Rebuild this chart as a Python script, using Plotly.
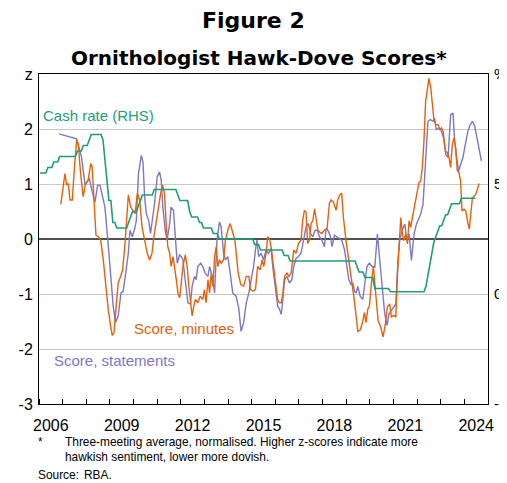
import plotly.graph_objects as go

# ---------------- data ----------------
# Cash rate (RHS, %), monthly, Jan 2006 - Jun 2024
cash_start_year = 2006
cash_rate = [
    5.5, 5.5, 5.5, 5.5, 5.75, 5.75, 5.75, 6.0, 6.0, 6.0, 6.25, 6.25,          # 2006
    6.25, 6.25, 6.25, 6.25, 6.25, 6.25, 6.25, 6.5, 6.5, 6.5, 6.75, 6.75,      # 2007
    6.75, 7.0, 7.25, 7.25, 7.25, 7.25, 7.25, 7.25, 7.0, 6.0, 5.25, 4.25,      # 2008
    4.25, 3.25, 3.25, 3.0, 3.0, 3.0, 3.0, 3.0, 3.0, 3.25, 3.5, 3.75,          # 2009
    3.75, 3.75, 4.0, 4.25, 4.5, 4.5, 4.5, 4.5, 4.5, 4.5, 4.75, 4.75,          # 2010
    4.75, 4.75, 4.75, 4.75, 4.75, 4.75, 4.75, 4.75, 4.75, 4.75, 4.5, 4.25,    # 2011
    4.25, 4.25, 4.25, 4.25, 3.75, 3.5, 3.5, 3.5, 3.5, 3.25, 3.25, 3.0,        # 2012
    3.0, 3.0, 3.0, 3.0, 2.75, 2.75, 2.75, 2.5, 2.5, 2.5, 2.5, 2.5,            # 2013
    2.5, 2.5, 2.5, 2.5, 2.5, 2.5, 2.5, 2.5, 2.5, 2.5, 2.5, 2.5,               # 2014
    2.5, 2.25, 2.25, 2.25, 2.0, 2.0, 2.0, 2.0, 2.0, 2.0, 2.0, 2.0,            # 2015
    2.0, 2.0, 2.0, 2.0, 1.75, 1.75, 1.75, 1.5, 1.5, 1.5, 1.5, 1.5,            # 2016
    1.5, 1.5, 1.5, 1.5, 1.5, 1.5, 1.5, 1.5, 1.5, 1.5, 1.5, 1.5,               # 2017
    1.5, 1.5, 1.5, 1.5, 1.5, 1.5, 1.5, 1.5, 1.5, 1.5, 1.5, 1.5,               # 2018
    1.5, 1.5, 1.5, 1.5, 1.5, 1.25, 1.0, 1.0, 1.0, 0.75, 0.75, 0.75,           # 2019
    0.75, 0.75, 0.25, 0.25, 0.25, 0.25, 0.25, 0.25, 0.25, 0.25, 0.1, 0.1,     # 2020
    0.1, 0.1, 0.1, 0.1, 0.1, 0.1, 0.1, 0.1, 0.1, 0.1, 0.1, 0.1,               # 2021
    0.1, 0.1, 0.1, 0.1, 0.35, 0.85, 1.35, 1.85, 2.35, 2.6, 2.85, 3.1,         # 2022
    3.1, 3.35, 3.6, 3.6, 3.85, 4.1, 4.1, 4.1, 4.1, 4.1, 4.35, 4.35,           # 2023
    4.35, 4.35, 4.35, 4.35, 4.35, 4.35,                                       # 2024
]

# Score, statements (z-score) - decimal year / value
statements_t = [
    2006.85, 2007.59, 2007.80, 2007.95, 2008.04, 2008.13, 2008.25, 2008.37, 2008.48, 2008.58,
    2008.72, 2008.79, 2008.90, 2009.00, 2009.14, 2009.24, 2009.35, 2009.47, 2009.56, 2009.67,
    2009.78, 2009.85, 2009.95, 2010.05, 2010.12, 2010.21, 2010.33, 2010.40, 2010.47, 2010.54,
    2010.64, 2010.72, 2010.78, 2010.89, 2011.00, 2011.10, 2011.17, 2011.24, 2011.34, 2011.42,
    2011.53, 2011.59, 2011.69, 2011.76, 2011.85, 2011.95, 2012.02, 2012.09, 2012.16, 2012.23,
    2012.30, 2012.41, 2012.48, 2012.58, 2012.65, 2012.72, 2012.84, 2012.93, 2013.03, 2013.15,
    2013.22, 2013.33, 2013.43, 2013.53, 2013.64, 2013.71, 2013.81, 2013.89, 2013.99, 2014.09,
    2014.20, 2014.34, 2014.46, 2014.55, 2014.66, 2014.77, 2014.88, 2014.98, 2015.08, 2015.16,
    2015.22, 2015.30, 2015.40, 2015.50, 2015.61, 2015.71, 2015.82, 2015.89, 2016.01, 2016.10,
    2016.18, 2016.25, 2016.32, 2016.39, 2016.49, 2016.60, 2016.70, 2016.78, 2016.88, 2016.98,
    2017.09, 2017.20, 2017.30, 2017.40, 2017.49, 2017.59, 2017.68, 2017.77, 2017.87, 2017.97,
    2018.08, 2018.15, 2018.22, 2018.32, 2018.40, 2018.50, 2018.60, 2018.71, 2018.81, 2018.93,
    2019.02, 2019.11, 2019.21, 2019.28, 2019.35, 2019.42, 2019.49, 2019.59, 2019.70, 2019.80,
    2019.88, 2019.98, 2020.09, 2020.21, 2020.32, 2020.42, 2020.52, 2020.63, 2020.73, 2020.81,
    2020.91, 2021.01, 2021.10, 2021.19, 2021.26, 2021.36, 2021.48, 2021.57, 2021.66, 2021.76,
    2021.87, 2021.97, 2022.07, 2022.15, 2022.25, 2022.32, 2022.39, 2022.46, 2022.56, 2022.67,
    2022.74, 2022.81, 2022.93, 2023.03, 2023.12, 2023.21, 2023.31, 2023.42, 2023.52, 2023.59,
    2023.69, 2023.76, 2023.84, 2023.94, 2024.04, 2024.15, 2024.25, 2024.34, 2024.44, 2024.53,
    2024.62, 2024.72,
]
statements_z = [
    1.91, 1.82, 1.49, 0.98, 1.04, 1.10, 0.86, 0.67, 0.98, 0.98,
    0.71, 0.58, 0.04, -0.56, -1.22, -1.52, -1.40, -0.98, -0.95, -0.62,
    -0.26, 0.16, 0.04, 0.19, 0.34, 1.19, 1.52, 1.40, 0.77, 0.46,
    0.34, 0.10, 0.28, 0.65, 1.13, 1.22, 1.07, 0.58, 0.16, -0.02,
    0.28, 0.58, 0.52, 0.04, -0.44, -0.29, -0.32, -0.38, -0.62, -0.86,
    -1.16, -1.18, -0.86, -0.68, -0.74, -0.50, -0.44, -0.50, -0.62, -0.68,
    -0.50, -0.68, -0.98, -0.02, 0.31, 0.22, -0.26, -0.38, -0.32, -0.62,
    -0.98, -1.04, -1.28, -1.68, -1.52, -1.16, -0.98, -0.74, -0.50, -0.20,
    -0.02, -0.32, -0.26, -0.38, -0.20, -0.26, -0.17, -0.50, -0.86, -1.22,
    -1.28, -1.37, -1.10, -0.74, -0.68, -0.80, -0.74, -0.50, -0.35, -0.32,
    -0.26, -0.02, 0.22, 0.28, 0.10, 0.04, 0.16, 0.16, 0.04, -0.02,
    -0.14, 0.19, 0.16, 0.07, -0.14, 0.07, 0.04, 0.01, -0.02, -0.20,
    -0.44, -0.74, -0.83, -0.80, -0.95, -0.98, -0.86, -1.04, -1.10, -0.74,
    -0.50, -0.44, -0.50, -0.51, 0.09, -0.39, -0.93, -1.36, -1.57, -1.36,
    -1.30, -1.24, -1.18, -0.39, -0.03, 0.15, 0.27, -0.03, 0.09, -0.39,
    0.09, 0.27, 0.39, 0.45, 0.63, 1.18, 1.78, 2.14, 2.17, 2.14,
    2.20, 1.99, 2.02, 1.96, 1.84, 1.54, 1.48, 2.26, 2.29, 1.78,
    1.42, 1.24, 1.36, 1.48, 1.72, 1.96, 2.08, 2.14, 2.05, 1.84,
    1.60, 1.42,
]

# Score, minutes (z-score) - decimal year / value
minutes_t = [
    2006.92, 2006.99, 2007.10, 2007.17, 2007.24, 2007.31, 2007.41, 2007.50, 2007.59, 2007.66,
    2007.76, 2007.87, 2007.97, 2008.08, 2008.19, 2008.25, 2008.34, 2008.41, 2008.51, 2008.61,
    2008.72, 2008.82, 2008.93, 2009.03, 2009.10, 2009.17, 2009.26, 2009.35, 2009.45, 2009.54,
    2009.64, 2009.71, 2009.78, 2009.88, 2009.97, 2010.07, 2010.16, 2010.26, 2010.36, 2010.47,
    2010.58, 2010.68, 2010.78, 2010.86, 2010.96, 2011.06, 2011.15, 2011.23, 2011.31, 2011.38,
    2011.45, 2011.53, 2011.59, 2011.67, 2011.74, 2011.81, 2011.88, 2011.95, 2012.02, 2012.09,
    2012.19, 2012.27, 2012.34, 2012.41, 2012.48, 2012.55, 2012.62, 2012.72, 2012.82, 2012.93,
    2013.00, 2013.07, 2013.15, 2013.22, 2013.29, 2013.36, 2013.43, 2013.50, 2013.57, 2013.64,
    2013.71, 2013.81, 2013.89, 2013.99, 2014.09, 2014.17, 2014.29, 2014.36, 2014.43, 2014.54,
    2014.66, 2014.77, 2014.88, 2014.95, 2015.06, 2015.16, 2015.25, 2015.36, 2015.44, 2015.51,
    2015.61, 2015.68, 2015.75, 2015.82, 2015.92, 2016.01, 2016.10, 2016.18, 2016.25, 2016.32,
    2016.39, 2016.49, 2016.57, 2016.67, 2016.78, 2016.88, 2016.98, 2017.09, 2017.16, 2017.23,
    2017.30, 2017.37, 2017.45, 2017.51, 2017.59, 2017.66, 2017.73, 2017.80, 2017.87, 2017.97,
    2018.08, 2018.19, 2018.29, 2018.36, 2018.46, 2018.57, 2018.64, 2018.73, 2018.81, 2018.88,
    2018.99, 2019.07, 2019.14, 2019.23, 2019.32, 2019.42, 2019.49, 2019.60, 2019.70, 2019.77,
    2019.84, 2019.91, 2019.98, 2020.08, 2020.15, 2020.22, 2020.28, 2020.35, 2020.46, 2020.56,
    2020.66, 2020.74, 2020.84, 2020.91, 2021.02, 2021.10, 2021.17, 2021.24, 2021.31, 2021.36,
    2021.43, 2021.52, 2021.59, 2021.66, 2021.73, 2021.80, 2021.87, 2021.94, 2022.01, 2022.08,
    2022.15, 2022.22, 2022.29, 2022.36, 2022.44, 2022.50, 2022.58, 2022.65, 2022.71, 2022.79,
    2022.88, 2022.96, 2023.03, 2023.10, 2023.20, 2023.28, 2023.35, 2023.42, 2023.49, 2023.56,
    2023.63, 2023.70, 2023.77, 2023.84, 2023.90, 2023.98, 2024.06, 2024.13, 2024.21, 2024.27,
    2024.34, 2024.41, 2024.48, 2024.55, 2024.62,
]
minutes_z = [
    0.63, 0.89, 1.19, 0.98, 1.01, 0.71, 0.71, 1.31, 1.79, 1.73,
    1.19, 0.77, 1.01, 1.07, 1.37, 1.31, 0.65, 0.07, 0.04, -0.02,
    -0.38, -0.86, -1.28, -1.59, -1.75, -1.71, -1.22, -0.80, -0.68, -0.56,
    -0.08, 0.46, 0.80, 0.58, 0.52, 0.46, 0.83, 0.71, 0.22, -0.02,
    -0.26, -0.38, -0.26, 0.04, 0.34, 0.58, 0.83, 0.98, 0.83, 0.28,
    -0.14, -0.26, -0.50, -0.32, -0.50, -0.74, -0.98, -1.07, -0.80, -0.50,
    -0.29, -0.50, -0.86, -1.16, -1.40, -1.22, -1.10, -1.16, -1.04, -1.10,
    -0.92, -1.16, -0.74, -0.98, -0.62, -0.86, -0.32, -0.14, -0.50, -0.38,
    -0.44, -0.38, -0.02, 0.16, 0.28, 0.16, -0.02, -0.32, -0.62, -0.83,
    -0.86, -0.68, -0.68, -0.92, -0.95, -0.92, -0.50, -0.56, -0.38, -0.50,
    -0.26, 0.04, 0.01, -0.14, -0.50, -0.86, -1.10, -1.16, -1.16, -0.98,
    -0.68, -0.62, -0.68, -0.62, -0.20, -0.26, -0.08, -0.02, 0.34, 0.52,
    0.49, -0.08, -0.02, 0.28, 0.34, 0.55, 0.34, 0.16, 0.13, 0.10,
    0.16, 0.19, 0.65, 0.71, 0.67, 0.52, 0.71, 0.80, 0.83, 0.40,
    -0.02, -0.26, -0.44, -0.74, -1.04, -1.40, -1.68, -1.65, -1.50, -1.34,
    -1.52, -1.28, -1.22, -0.74, -0.50, -0.86, -1.12, -1.48, -1.60, -1.78,
    -1.54, -1.24, -1.18, -1.42, -1.39, -1.42, -0.63, -0.03, 0.39, 0.15,
    -0.03, 0.09, -0.09, 0.33, 0.21, 0.39, 0.57, 0.69, 0.87, 1.03,
    1.05, 1.30, 1.78, 2.50, 2.74, 2.92, 2.74, 2.44, 2.17, 2.08,
    2.08, 1.99, 2.02, 1.96, 1.60, 1.57, 1.48, 1.30, 1.72, 1.84,
    1.66, 1.24, 1.21, 1.05, 0.51, 0.54, 0.51, 0.33, 0.18, 0.45,
    0.75, 0.78, 0.81, 0.90, 1.01,
]

x_label_years = [2006, 2009, 2012, 2015, 2018, 2021, 2024]
left_ticks = [-3, -2, -1, 0, 1, 2, 3]
left_ticktext = ["-3", "-2", "-1", "0", "1", "2", "z"]
right_ticks = [-5, 0, 5, 10]
right_ticktext = ["-5", "0", "5", "%"]

# ---------------- colours / styles ----------------
ORANGE = "#E5620B"
PURPLE = "#7F76C6"
GREEN = "#1E9E78"
FONT = "Arial, Liberation Sans, sans-serif"
TITLE_FONT = "DejaVu Sans, Arial, sans-serif"

cash_t = [cash_start_year + i / 12 + 1 / 24 for i in range(len(cash_rate))]

# page body has an 8px margin, so the figure is drawn 8px smaller
W, H = 499, 475
PL, PR, PT, PB = 31, 480, 66, 396  # plot area in figure pixels

fig = go.Figure()
fig.add_trace(go.Scatter(x=cash_t, y=cash_rate, mode="lines", yaxis="y2",
                         line=dict(color=GREEN, width=1.6), hoverinfo="skip"))
fig.add_trace(go.Scatter(x=statements_t, y=statements_z, mode="lines",
                         line=dict(color=PURPLE, width=1.4), hoverinfo="skip"))
fig.add_trace(go.Scatter(x=minutes_t, y=minutes_z, mode="lines",
                         line=dict(color=ORANGE, width=1.4), hoverinfo="skip"))

fig.update_layout(
    width=W, height=H,
    margin=dict(l=PL, r=W - PR, t=PT, b=H - PB, autoexpand=False),
    paper_bgcolor="white", plot_bgcolor="white",
    showlegend=False,
    font=dict(family=FONT, color="black", size=13),
    xaxis=dict(
        range=[2006, 2025], automargin=False,
        tickvals=[y + 0.5 for y in x_label_years],
        ticktext=[str(y) for y in x_label_years],
        ticks="", showgrid=False, zeroline=False,
        showline=True, mirror=True, linecolor="black", linewidth=1,
        tickfont=dict(size=16), ticklabelstandoff=7,
        minor=dict(tickvals=list(range(2006, 2026)), ticks="inside",
                   ticklen=5, tickcolor="black", tickwidth=1, showgrid=False),
    ),
    yaxis=dict(
        range=[-3, 3], automargin=False,
        tickvals=left_ticks, ticktext=left_ticktext,
        ticks="", showgrid=True, gridcolor="#C8C8C8", gridwidth=1,
        zeroline=True, zerolinecolor="#505050", zerolinewidth=2,
        showline=True, mirror=True, linecolor="black", linewidth=1,
        tickfont=dict(size=16), ticklabelstandoff=2,
    ),
    yaxis2=dict(
        range=[-5, 10], overlaying="y", side="right", automargin=False,
        tickvals=right_ticks, ticktext=right_ticktext,
        ticks="", showgrid=False, zeroline=False,
        showline=True, linecolor="black", linewidth=1,
        tickfont=dict(size=15), ticklabelstandoff=2,
    ),
)

# helpers: page pixel (as seen in the screenshot) -> paper coordinates
def px(xpage):
    return (xpage - 8 - PL) / (PR - PL)

def py(ypage):
    return (PB - (ypage - 8)) / (PB - PT)

fig.add_annotation(text="<b>Figure 2</b>", x=px(253), y=py(21), xref="paper", yref="paper",
                   xanchor="center", yanchor="middle", showarrow=False,
                   font=dict(size=22, family=TITLE_FONT))
fig.add_annotation(text="<b>Ornithologist Hawk-Dove Scores*</b>", x=px(259), y=py(58),
                   xref="paper", yref="paper", xanchor="center", yanchor="middle",
                   showarrow=False, font=dict(size=20, family=TITLE_FONT))

# series labels
fig.add_annotation(text="Cash rate (RHS)", x=2006.08, y=2.25, xref="x", yref="y",
                   xanchor="left", yanchor="middle", showarrow=False,
                   font=dict(size=15, color=GREEN))
fig.add_annotation(text="Score, minutes", x=2009.93, y=-1.63, xref="x", yref="y",
                   xanchor="left", yanchor="middle", showarrow=False,
                   font=dict(size=15, color=ORANGE))
fig.add_annotation(text="Score, statements", x=2006.55, y=-2.2, xref="x", yref="y",
                   xanchor="left", yanchor="middle", showarrow=False,
                   font=dict(size=15, color=PURPLE))

# footnotes
foot = dict(xref="paper", yref="paper", xanchor="left", yanchor="middle", showarrow=False,
            font=dict(size=11.9))
fig.add_annotation(text="*", x=px(36), y=py(442), **foot)
fig.add_annotation(text="Three-meeting average, normalised. Higher z-scores indicate more",
                   x=px(63), y=py(442), **foot)
fig.add_annotation(text="hawkish sentiment, lower more dovish.", x=px(63), y=py(457), **foot)
fig.add_annotation(text="Source:", x=px(36), y=py(475), **foot)
fig.add_annotation(text="RBA.", x=px(82), y=py(475), **foot)

fig.write_html("out.html")
